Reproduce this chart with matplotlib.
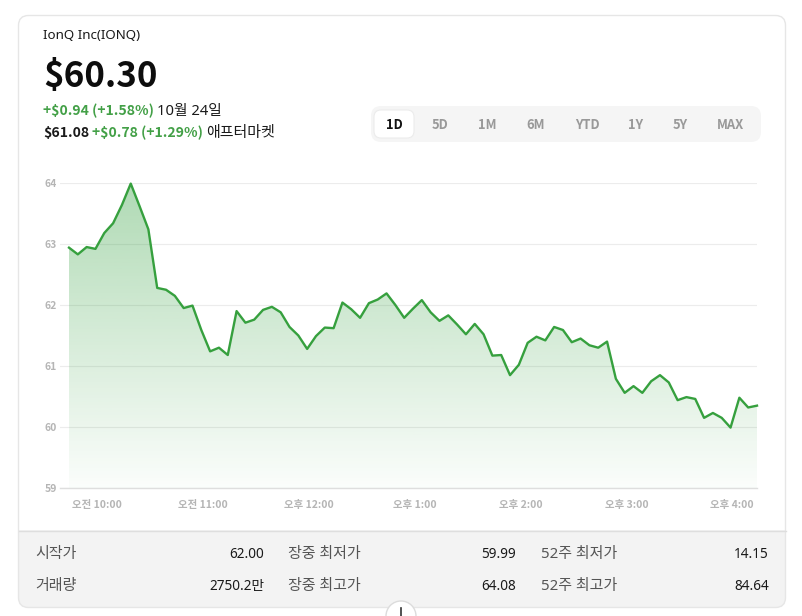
"""Recreate the IonQ 1D price card."""

import matplotlib

matplotlib.use("Agg")

import matplotlib.pyplot as plt
import numpy as np
from matplotlib.patches import Circle, FancyBboxPatch, Rectangle

plt.rcParams["font.family"] = ["Noto Sans", "Noto Sans CJK KR", "DejaVu Sans"]

# ---------------------------------------------------------------------------
# Data
# ---------------------------------------------------------------------------

prices = [
    62.94, 62.83, 62.95, 62.92, 63.18, 63.34, 63.64, 63.99, 63.62, 63.24,
    62.28, 62.25, 62.15, 61.95, 61.99, 61.59, 61.24, 61.30, 61.18, 61.90,
    61.71, 61.76, 61.92, 61.97, 61.88, 61.64, 61.50, 61.28, 61.49, 61.63,
    61.62, 62.04, 61.93, 61.79, 62.03, 62.09, 62.19, 62.00, 61.79, 61.94,
    62.08, 61.88, 61.74, 61.83, 61.68, 61.52, 61.69, 61.52, 61.17, 61.18,
    60.85, 61.02, 61.38, 61.48, 61.42, 61.64, 61.59, 61.39, 61.45, 61.34,
    61.30, 61.40, 60.79, 60.56, 60.67, 60.56, 60.75, 60.85, 60.73, 60.44,
    60.49, 60.46, 60.15, 60.23, 60.15, 59.99, 60.48, 60.32, 60.35,
]
y_ticks = [59, 60, 61, 62, 63, 64]
x_tick_pos = [3.2, 15.2, 27.2, 39.2, 51.2, 63.2, 75.2]
x_tick_labels = [
    "오전 10:00", "오전 11:00", "오후 12:00", "오후 1:00",
    "오후 2:00", "오후 3:00", "오후 4:00",
]
ranges = ["1D", "5D", "1M", "6M", "YTD", "1Y", "5Y", "MAX"]
range_x = [394, 440, 487, 536, 587, 636, 680, 731]
stats_left = [("시작가", "62.00"), ("거래량", "2750.2만")]
stats_mid = [("장중 최저가", "59.99"), ("장중 최고가", "64.08")]
stats_right = [("52주 최저가", "14.15"), ("52주 최고가", "84.64")]

GREEN = "#36a03e"
TEXT_GREEN = "#43a047"
DARK = "#1a1a1a"
BOLD_FONT = ["Noto Sans CJK KR", "DejaVu Sans"]  # Noto Sans has no bold face here
W, H = 802, 616

fig = plt.figure(figsize=(W / 100, H / 100), dpi=100, facecolor="white")

# ---------------------------------------------------------------------------
# Card chrome, drawn in pixel coordinates
# ---------------------------------------------------------------------------

bg = fig.add_axes([0, 0, 1, 1], zorder=1)
bg.set_xlim(0, W)
bg.set_ylim(H, 0)
bg.axis("off")

card = FancyBboxPatch(
    (18.5, 15.5), 767, 592, boxstyle="round,pad=0,rounding_size=10",
    facecolor="white", edgecolor="none",
)
bg.add_patch(card)
panel = Rectangle((18, 530), 768, 78, facecolor="#f3f3f3", edgecolor="none")
bg.add_patch(panel)
panel.set_clip_path(card)
bg.plot([18.5, 785.5], [530.5, 530.5], color="#dedede", lw=1)
bg.add_patch(FancyBboxPatch(
    (18.5, 15.5), 767, 592, boxstyle="round,pad=0,rounding_size=10",
    facecolor="none", edgecolor="#e6e6e6", linewidth=1,
))

# Header texts
bold = dict(fontweight="bold", family=BOLD_FONT, va="baseline")
bg.text(43, 39, "IonQ Inc(IONQ)", fontsize=9.6, color=DARK, va="baseline")
bg.text(43, 87, "$60.30", fontsize=25.2, color="#0d0d0d", **bold)
bg.text(43, 115, "+$0.94 (+1.58%)", fontsize=10.1, color=TEXT_GREEN, **bold)
bg.text(157, 115, "10월 24일", fontsize=10.6, color=DARK, va="baseline")
bg.text(43, 137, "$61.08", fontsize=10.1, color=DARK, **bold)
bg.text(92, 137, "+$0.78 (+1.29%)", fontsize=10.1, color=TEXT_GREEN, **bold)
bg.text(206, 137, "애프터마켓", fontsize=10.8, color=DARK, va="baseline")

# Range selector
bg.add_patch(FancyBboxPatch(
    (371, 106), 390, 36, boxstyle="round,pad=0,rounding_size=10",
    facecolor="#f5f5f5", edgecolor="none",
))
bg.add_patch(FancyBboxPatch(
    (374, 110), 40, 28, boxstyle="round,pad=0,rounding_size=7",
    facecolor="white", edgecolor="#ececec", linewidth=0.8,
))
for label, x in zip(ranges, range_x):
    active = label == "1D"
    bg.text(
        x, 129, label, fontsize=9.3, ha="center",
        color="#111111" if active else "#999999", **bold,
    )

# Stats panel
for row_y, left, mid, right in zip([558, 590], stats_left, stats_mid, stats_right):
    for (name, value), name_x, value_x in zip(
        [left, mid, right], [35, 288, 541], [264, 516, 769]
    ):
        bg.text(name_x, row_y, name, fontsize=10.8, color="#555555", va="baseline")
        bg.text(value_x, row_y, value, fontsize=9.8, color=DARK, va="baseline", ha="right")

# Expand button, cut off by the bottom edge
bg.add_patch(Circle((401, 616), 15, facecolor="white", edgecolor="#dcdcdc", linewidth=1))
bg.plot([401, 401], [608, 616], color="#333333", lw=1.2)

# ---------------------------------------------------------------------------
# Price chart
# ---------------------------------------------------------------------------

left_px, right_px, top_px, bottom_px = 60, 757, 183, 488
ax = fig.add_axes(
    [left_px / W, 1 - bottom_px / H, (right_px - left_px) / W, (bottom_px - top_px) / H],
    zorder=2,
)
ax.patch.set_alpha(0)

x = np.arange(len(prices))
x_min = -9 / 8.82
ax.grid(axis="y", color="#ececec", lw=0.8)
ax.set_axisbelow(True)

# Vertical gradient under the line
gradient = np.zeros((256, 1, 4))
gradient[..., :3] = matplotlib.colors.to_rgb("#2e9e3a")
gradient[..., 3] = np.linspace(0.38, 0.02, 256)[:, None]
area = ax.fill_between(x, prices, 59, color="none")
im = ax.imshow(gradient, extent=(0, x[-1], 59, 64), aspect="auto", origin="upper", zorder=1)
im.set_clip_path(area.get_paths()[0], transform=ax.transData)

ax.plot(x, prices, color=GREEN, lw=1.7, solid_joinstyle="round", zorder=3, clip_on=False)

ax.set_xlim(x_min, x[-1])
ax.set_ylim(59, 64)
ax.set_yticks(y_ticks)
ax.set_xticks(x_tick_pos, x_tick_labels)
ax.tick_params(axis="both", length=0, labelsize=7.5, labelcolor="#b5b5b5")
ax.tick_params(axis="x", pad=8.5)
ax.tick_params(axis="y", pad=2)
for label in ax.get_xticklabels() + ax.get_yticklabels():
    label.set_fontweight("bold")
    label.set_family(BOLD_FONT)
for side in ("top", "right", "left"):
    ax.spines[side].set_visible(False)
ax.spines["bottom"].set_color("#dedede")
ax.spines["bottom"].set_linewidth(1)

fig.savefig("out.png", dpi=100, facecolor="white")
